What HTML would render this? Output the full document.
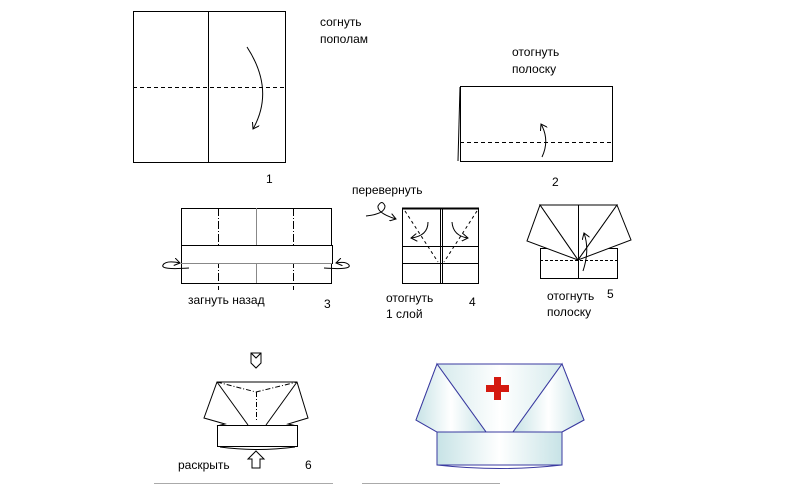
<!DOCTYPE html>
<html><head><meta charset="utf-8"><style>
html,body{margin:0;padding:0;background:#fff;}
svg{display:block;}
text{font-family:"Liberation Sans",sans-serif;font-size:12px;fill:#000;}
</style></head><body>
<svg width="800" height="485" viewBox="0 0 800 485" xmlns="http://www.w3.org/2000/svg">
<defs>
<marker id="ah" markerWidth="8" markerHeight="8" refX="6" refY="4" orient="auto" markerUnits="userSpaceOnUse">
<path d="M0,0 L6,4 L0,8" fill="none" stroke="#000" stroke-width="1"/></marker>
<linearGradient id="cg" x1="0" x2="1" y1="0" y2="0">
<stop offset="0" stop-color="#c7e3e6"/><stop offset="0.5" stop-color="#ffffff"/><stop offset="1" stop-color="#c7e3e6"/></linearGradient>
</defs>
<g fill="none" stroke="#000" stroke-width="1">
<rect x="133.5" y="11.5" width="152" height="151"/>
<line x1="208.5" y1="11" x2="208.5" y2="162"/>
<line x1="133" y1="87.5" x2="285" y2="87.5" stroke-dasharray="4,3"/>
<path d="M247,47 Q275,90 253,129" marker-end="url(#ah)"/>
<rect x="460.5" y="86.5" width="152" height="75"/>
<line x1="460" y1="87" x2="458" y2="161"/>
<line x1="460" y1="142.5" x2="612" y2="142.5" stroke-dasharray="4,3"/>
<path d="M542,157 Q550,140 541,124" marker-end="url(#ah)"/>
<line x1="181.5" y1="208" x2="181.5" y2="283"/>
<line x1="331.5" y1="208" x2="331.5" y2="283"/>
<line x1="181" y1="208.5" x2="332" y2="208.5"/>
<line x1="181" y1="283.5" x2="332" y2="283.5"/>
<line x1="256.5" y1="208" x2="256.5" y2="283" stroke="#888"/>
<line x1="218.5" y1="208" x2="218.5" y2="290" stroke-dasharray="8,2,1,2"/>
<line x1="293.5" y1="208" x2="293.5" y2="290" stroke-dasharray="8,2,1,2"/>
<rect x="181.5" y="245.5" width="151" height="18" fill="#fff"/>
<line x1="181" y1="263.5" x2="332" y2="263.5" stroke="#888"/>
<path d="M189,268 Q160,270 163,265 Q166,260 180,263" marker-end="url(#ah)"/>
<path d="M324,268 Q352,270 349,265 Q346,261 336,263" marker-end="url(#ah)"/>
<rect x="402.5" y="208.5" width="76" height="75"/>
<line x1="402" y1="208.5" x2="479" y2="208.5" stroke-width="2"/>
<line x1="440.5" y1="208" x2="440.5" y2="283"/>
<line x1="442.5" y1="208" x2="442.5" y2="283"/>
<line x1="402" y1="246.5" x2="479" y2="246.5"/>
<line x1="402" y1="263.5" x2="479" y2="263.5"/>
<line x1="405" y1="211" x2="438" y2="262" stroke-dasharray="3,3"/>
<line x1="477" y1="211" x2="444" y2="262" stroke-dasharray="3,3"/>
<path d="M428,222 Q428,236 411,238" marker-end="url(#ah)"/>
<path d="M452,222 Q453,236 468,238" marker-end="url(#ah)"/>
<path d="M366,216 Q385,214 385,206 Q382,199 378,206 Q377,213 396,219" marker-end="url(#ah)"/>
<rect x="540.5" y="248.5" width="77" height="30"/>
<line x1="540" y1="260.5" x2="617" y2="260.5" stroke-dasharray="3,2"/>
<line x1="578.5" y1="205" x2="578.5" y2="278"/>
<polygon points="540,205 617,205 578,260" fill="#fff"/>
<line x1="578.5" y1="205" x2="578.5" y2="260"/>
<polygon points="540,205 578,260 527,241" fill="#fff"/>
<polygon points="617,205 631,240 578,260" fill="#fff"/>
<path d="M583,271 Q590,250 584,233" marker-end="url(#ah)"/>
<polygon points="217,382 297,382 308,418 288,424 297,426 217,426 225,424 204,418" fill="#fff"/>
<line x1="217" y1="382" x2="248" y2="425"/>
<line x1="297" y1="382" x2="266" y2="425"/>
<path d="M217,382 L256,392 L297,382" stroke-dasharray="5,2,1,2"/>
<line x1="256.5" y1="392" x2="256.5" y2="420" stroke-dasharray="5,2,1,2"/>
<rect x="217.5" y="425.5" width="80" height="21" fill="#fff"/>
<path d="M220,447 Q257,452 295,447"/>
<path d="M251,353 L261,353 L261,363 L256,368 L251,363 Z"/>
<path d="M251,353 L256,358 L261,353"/>
<path d="M256,451 L264,459 L260,459 L260,468 L252,468 L252,459 L248,459 Z"/>
<line x1="154" y1="483.5" x2="333" y2="483.5" stroke="#aaa"/>
<line x1="362" y1="483.5" x2="500" y2="483.5" stroke="#aaa"/>
</g>
<g stroke="#3a3aa0" stroke-width="1">
<polygon points="437,364 562,364 584,420 562,432 437,432 416,420" fill="url(#cg)"/>
<polygon points="437,364 486,432 437,432" fill="#d2eaec"/>
<polygon points="562,364 513,432 562,432" fill="#d2eaec"/>
<polygon points="437,364 416,420 437,432 486,432" fill="url(#cg)"/>
<polygon points="562,364 584,420 562,432 513,432" fill="url(#cg)"/>
<rect x="437" y="432" width="125" height="33" fill="url(#cg)"/>
<path d="M437,465 Q500,472 562,465" fill="none"/>
</g>
<path d="M494,377h7v8h8v7h-8v8h-7v-8h-8v-7h8z" fill="#d41a10"/>
<text x="320" y="26">согнуть</text>
<text x="320" y="43">пополам</text>
<text x="512" y="56">отогнуть</text>
<text x="512" y="73">полоску</text>
<text x="266" y="183">1</text>
<text x="552" y="186">2</text>
<text x="352" y="194">перевернуть</text>
<text x="188" y="304">загнуть назад</text>
<text x="324" y="308">3</text>
<text x="386" y="302">отогнуть</text>
<text x="386" y="318">1 слой</text>
<text x="469" y="306">4</text>
<text x="547" y="300">отогнуть</text>
<text x="547" y="316">полоску</text>
<text x="607" y="298">5</text>
<text x="178" y="469">раскрыть</text>
<text x="305" y="469">6</text>
</svg>
</body></html>
